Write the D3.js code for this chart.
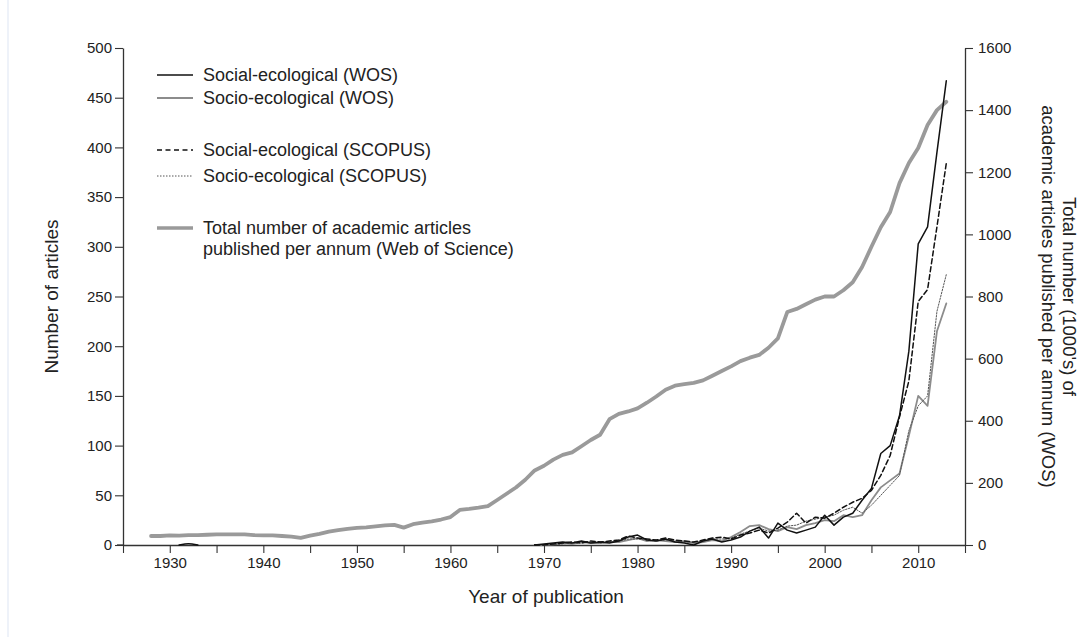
<!DOCTYPE html>
<html>
<head>
<meta charset="utf-8">
<script src="https://cdn.jsdelivr.net/npm/d3@7"></script>
<style>
  html, body { margin: 0; padding: 0; background: #fff; }
  svg { display: block; font-family: "Liberation Sans", Arial, Helvetica, sans-serif; }
</style>
</head>
<body>
<svg id="chart" width="1085" height="637"></svg>
<script>
// ---------------- DATA ----------------
const yearsArticles = d3.range(1969, 2014);
const earlyYears = [1931, 1932, 1933];
const socialWOSEarly = [0, 2, 0];
const socialWOS = [0,1,2,3,2,4,2,3,2,4,8,10,5,4,6,3,2,0,4,6,3,5,8,14,18,7,22,15,12,15,18,30,20,28,32,45,57,92,100,130,195,303,320,395,467];
const socioWOS  = [0,0,1,2,1,3,2,2,3,3,5,7,4,5,4,3,4,2,3,5,4,8,13,19,20,16,14,18,16,20,22,25,24,30,28,30,45,58,65,72,110,150,140,215,243];
const socialSCOPUS = [0,0,1,2,3,2,4,3,4,5,9,7,6,5,7,5,4,3,5,7,8,6,10,12,15,12,17,23,32,22,28,27,32,38,43,47,55,70,90,129,165,245,257,320,384];
const socioSCOPUS  = [0,0,0,1,2,2,3,2,3,4,6,6,5,4,5,4,3,3,4,6,6,7,11,14,17,14,15,19,20,24,26,28,30,35,38,32,40,50,60,70,115,140,150,235,272];

const yearsTotal = d3.range(1928, 2014);
const totalWOS = [
  29,29,31,30,32,32,33,34,34,34,          // 1928-1937
  34,32,31,31,29,27,23,30,36,43,          // 1938-1947
  48,52,55,57,60,63,65,56,67,72,          // 1948-1957
  76,82,90,113,116,120,125,145,165,185,   // 1958-1967
  210,240,255,275,290,298,318,338,355,405, // 1968-1977
  422,430,440,458,478,500,513,518,522,530, // 1978-1987
  545,560,575,592,603,612,635,665,750,760, // 1988-1997
  775,790,800,800,820,846,895,960,1023,1072, // 1998-2007
  1165,1230,1278,1352,1400,1427          // 2008-2013
];

const leftTicks = [0,50,100,150,200,250,300,350,400,450,500];
const rightTicks = [0,200,400,600,800,1000,1200,1400,1600];
const xTickYears = d3.range(1925, 2016, 5);
const xLabelYears = d3.range(1930, 2011, 10);

const legendItems = [
  {label: ["Social-ecological (WOS)"], key: "socialWOS"},
  {label: ["Socio-ecological (WOS)"], key: "socioWOS"},
  {label: ["Social-ecological (SCOPUS)"], key: "socialSCOPUS"},
  {label: ["Socio-ecological (SCOPUS)"], key: "socioSCOPUS"},
  {label: ["Total number of academic articles", "published per annum (Web of Science)"], key: "total"}
];

// ---------------- STYLES ----------------
const styles = {
  socialWOS:    {stroke: "#111", width: 1.5, dash: null},
  socioWOS:     {stroke: "#8c8c8c", width: 1.8, dash: null},
  socialSCOPUS: {stroke: "#111", width: 1.5, dash: "5,3"},
  socioSCOPUS:  {stroke: "#555", width: 1.0, dash: "1.5,1.5"},
  total:        {stroke: "#9a9a9a", width: 3.8, dash: null}
};

// ---------------- LAYOUT ----------------
const svg = d3.select("#chart");
const L = 123, R = 965, T = 48, B = 545;
const axisColor = "#333";

const x = d3.scaleLinear().domain([1925, 2015]).range([L, R]);
const yL = d3.scaleLinear().domain([0, 500]).range([B, T]);
const yR = d3.scaleLinear().domain([0, 1600]).range([B, T]);

// faint left border
svg.append("line").attr("x1", 8).attr("x2", 8).attr("y1", 0).attr("y2", 637)
  .attr("stroke", "#eef2f9").attr("stroke-width", 2);

// ---------------- AXES ----------------
function styleAxis(g) {
  g.selectAll("path").attr("stroke", axisColor).attr("stroke-width", 1.3);
  g.selectAll("line").attr("stroke", axisColor).attr("stroke-width", 1.1);
  g.selectAll("text").attr("fill", "#222").style("font-size", "15px")
    .style("font-family", '"Liberation Sans", Arial, sans-serif');
}

const xAxis = d3.axisBottom(x).tickValues(xTickYears).tickSize(8).tickSizeOuter(0)
  .tickFormat(d => xLabelYears.includes(d) ? d : "");
svg.append("g").attr("transform", `translate(0,${B})`).call(xAxis).call(styleAxis)
  .call(g => g.selectAll("text").attr("dy", "0.85em").attr("y", 10));

// extend x axis line slightly left of left axis (as in reference)
svg.append("line").attr("x1", L - 6).attr("x2", L).attr("y1", B).attr("y2", B)
  .attr("stroke", axisColor).attr("stroke-width", 1.3);

const yAxisL = d3.axisLeft(yL).tickValues(leftTicks).tickSize(8).tickSizeOuter(0)
  .tickFormat(d3.format("d"));
svg.append("g").attr("transform", `translate(${L},0)`).call(yAxisL).call(styleAxis)
  .call(g => g.selectAll(".tick text").attr("x", -11));

const yAxisR = d3.axisRight(yR).tickValues(rightTicks).tickSize(8).tickSizeOuter(0)
  .tickFormat(d3.format("d"));
svg.append("g").attr("transform", `translate(${R},0)`).call(yAxisR).call(styleAxis)
  .call(g => g.selectAll(".tick text").attr("x", 13));

// ---------------- AXIS TITLES ----------------
const titleFont = "19px";
svg.append("text").attr("x", (L + R) / 2 + 2).attr("y", 603).attr("text-anchor", "middle")
  .style("font-size", titleFont).attr("fill", "#222").text("Year of publication");

svg.append("text").attr("transform", `translate(58,${(T + B) / 2}) rotate(-90)`)
  .attr("text-anchor", "middle").style("font-size", titleFont).attr("fill", "#222")
  .text("Number of articles");

const rightTitle = svg.append("text")
  .attr("transform", `translate(1049,${(T + B) / 2}) rotate(90)`)
  .attr("text-anchor", "middle").style("font-size", "18.5px").attr("fill", "#222");
rightTitle.append("tspan").attr("x", 0).attr("y", -14).text("Total number (1000's) of");
rightTitle.append("tspan").attr("x", 0).attr("y", 7).text("academic articles published per annum (WOS)");

// ---------------- LINES ----------------
const lineL = d3.line().defined(d => d[1] != null).x(d => x(d[0])).y(d => yL(d[1]));
const lineR = d3.line().x(d => x(d[0])).y(d => yR(d[1]));

function drawPath(data, gen, key) {
  const s = styles[key];
  svg.append("path").datum(data).attr("d", gen)
    .attr("fill", "none").attr("stroke", s.stroke).attr("stroke-width", s.width)
    .attr("stroke-dasharray", s.dash).attr("stroke-linejoin", "round").attr("stroke-linecap", "round");
}

drawPath(d3.zip(yearsTotal, totalWOS), lineR, "total");
drawPath(d3.zip(yearsArticles, socioWOS), lineL, "socioWOS");
drawPath(d3.zip(yearsArticles, socioSCOPUS), lineL, "socioSCOPUS");
drawPath(d3.zip(yearsArticles, socialSCOPUS), lineL, "socialSCOPUS");
drawPath(d3.zip(yearsArticles, socialWOS), lineL, "socialWOS");
drawPath(d3.zip(earlyYears, socialWOSEarly), d3.line().curve(d3.curveBasis).x(d => x(d[0])).y(d => yL(d[1])), "socialWOS");

// ---------------- LEGEND ----------------
const legendY = [75, 98, 150, 176, 228];
const legend = svg.append("g");
legendItems.forEach((item, i) => {
  const s = styles[item.key];
  const yy = legendY[i];
  legend.append("line").attr("x1", 157).attr("x2", 193).attr("y1", yy).attr("y2", yy)
    .attr("stroke", s.stroke).attr("stroke-width", item.key === "total" ? 3.5 : s.width)
    .attr("stroke-dasharray", item.key === "socialSCOPUS" ? "5,3.5" : s.dash);
  item.label.forEach((t, j) => {
    legend.append("text").attr("x", 203).attr("y", yy + 6 + j * 21)
      .style("font-size", "18px").attr("fill", "#222").text(t);
  });
});
</script>
</body>
</html>
